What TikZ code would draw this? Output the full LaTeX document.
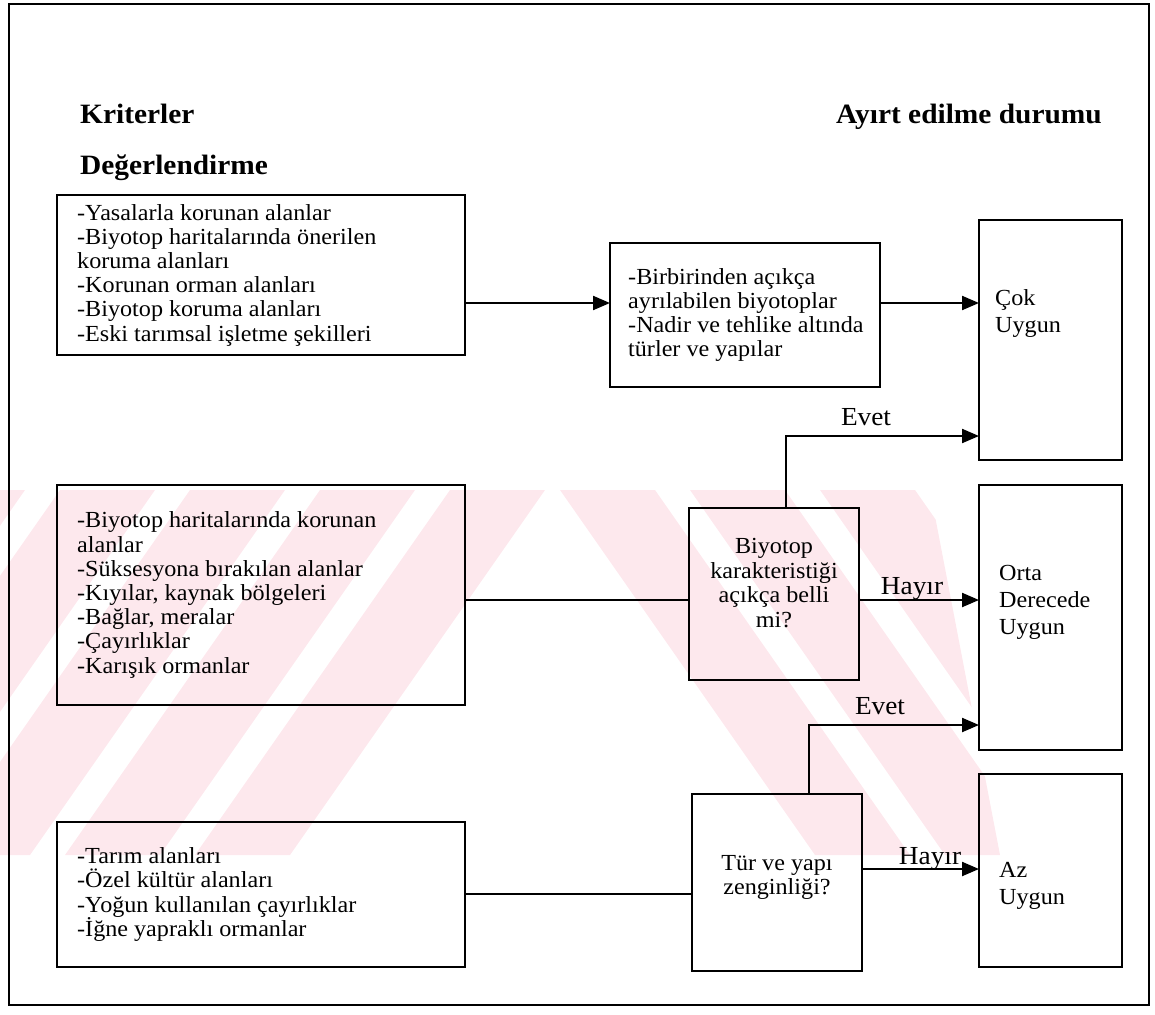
\documentclass[tikz,border=0pt]{standalone}
\usepackage{fontspec}
\setmainfont{Liberation Serif}[FakeStretch=1.05]
\usetikzlibrary{arrows.meta,calc}
\definecolor{wm}{RGB}{253,232,237}
\begin{document}
\begin{tikzpicture}[x=1pt,y=-1pt,
  box/.style={draw, line width=1.8pt, inner sep=0pt, outer sep=0pt, anchor=north west},
  lsttxt/.style={anchor=west, align=left, inner sep=0pt, font=\fontsize{23}{24.2}\selectfont},
  ctrtxt/.style={align=center, inner sep=0pt, font=\fontsize{23}{24.5}\selectfont},
  rtxt/.style={anchor=north west, align=left, inner sep=0pt, font=\fontsize{23}{27}\selectfont},
  head/.style={inner sep=0pt, font=\fontsize{28}{30}\selectfont\bfseries},
  lbl/.style={inner sep=0pt, anchor=base, font=\fontsize{26}{28}\selectfont},
  ln/.style={line width=2.2pt},
  arr/.style={line width=2.2pt, -{Triangle[length=17pt,width=14pt]}}
]
\useasboundingbox (0,0) rectangle (1155,1014);
% watermark
\begin{scope}
  \clip (0,490) -- (930,490) -- (1000,855) -- (0,855) -- cycle;
  \foreach \a in {-70,60,190,320,450}{
    \fill[wm] (\a,490) -- ({\a+95},490) -- ({\a+95-255},855) -- ({\a-255},855) -- cycle;}
  \foreach \b in {560,690,820}{
    \fill[wm] (\b,490) -- ({\b+95},490) -- ({\b+95+255},855) -- ({\b+255},855) -- cycle;}
\end{scope}
% frame
\node[draw, line width=1.6pt, inner sep=0pt, anchor=north west, minimum width=1140pt, minimum height=1001pt] (frame) at (8,3) {};
% headings
\node[head, anchor=base west] (kr) at (80,124) {Kriterler};
\node[head, anchor=base west] (de) at (80,174) {Değerlendirme};
\node[head, anchor=base east] (ay) at (1102,124) {Ayırt edilme durumu};
% left boxes
\node[box, minimum width=408pt, minimum height=160pt] (b1) at (57,195) {};
\node[lsttxt] (t1) at ($(b1.west)+(20,0)$) {-Yasalarla korunan alanlar\\-Biyotop haritalarında önerilen\\koruma alanları\\-Korunan orman alanları\\-Biyotop koruma alanları\\-Eski tarımsal işletme şekilleri};
\node[box, minimum width=408pt, minimum height=220pt] (bm) at (57,485) {};
\node[lsttxt] (tm) at ($(bm.west)+(20,0)$) {-Biyotop haritalarında korunan\\alanlar\\-Süksesyona bırakılan alanlar\\-Kıyılar, kaynak bölgeleri\\-Bağlar, meralar\\-Çayırlıklar\\-Karışık ormanlar};
\node[box, minimum width=408pt, minimum height=145pt] (bb) at (57,822) {};
\node[lsttxt] (tb) at ($(bb.west)+(20,0)$) {-Tarım alanları\\-Özel kültür alanları\\-Yoğun kullanılan çayırlıklar\\-İğne yapraklı ormanlar};
% middle boxes
\node[box, minimum width=270pt, minimum height=144pt] (b2) at (610,243) {};
\node[lsttxt] (t2) at ($(b2.west)+(18,0)$) {-Birbirinden açıkça\\ayrılabilen biyotoplar\\-Nadir ve tehlike altında\\türler ve yapılar};
\node[box, minimum width=170pt, minimum height=172pt] (b3) at (689,508) {};
\node[ctrtxt] (t3) at ($(b3.center)+(0,-11)$) {Biyotop\\karakteristiği\\açıkça belli\\mi?};
\node[box, minimum width=170pt, minimum height=177pt] (b4) at (692,794) {};
\node[ctrtxt] (t4) at ($(b4.center)+(0,-5)$) {Tür ve yapı\\zenginliği?};
% right boxes
\node[box, minimum width=143pt, minimum height=240pt] (cok) at (979,220) {};
\node[rtxt] (tc) at (995,289) {Çok\\Uygun};
\node[box, minimum width=143pt, minimum height=265pt] (orta) at (979,485) {};
\node[rtxt] (to) at (999,565) {Orta\\Derecede\\Uygun};
\node[box, minimum width=143pt, minimum height=193pt] (az) at (979,774) {};
\node[rtxt] (ta) at (999,862) {Az\\Uygun};
% connectors
\coordinate (r1) at (0,303);
\draw[arr] (b1.east |- r1) -- (b2.west |- r1);
\draw[arr] (b2.east |- r1) -- (cok.west |- r1);
\coordinate (e1) at (786,436);
\draw[arr] (b3.north -| e1) -- (e1) -- (cok.west |- e1);
\node[lbl] (ev1) at (866,425) {Evet};
\coordinate (r2) at (0,600);
\draw[ln] (bm.east |- r2) -- (b3.west |- r2);
\draw[arr] (b3.east |- r2) -- (orta.west |- r2);
\node[lbl] (hy1) at (912,594) {Hayır};
\coordinate (e2) at (809,725);
\draw[arr] (b4.north -| e2) -- (e2) -- (orta.west |- e2);
\node[lbl] (ev2) at (880,714) {Evet};
\coordinate (r3) at (0,894);
\draw[ln] (bb.east |- r3) -- (b4.west |- r3);
\coordinate (r4) at (0,869);
\draw[arr] (b4.east |- r4) -- (az.west |- r4);
\node[lbl] (hy2) at (930,864) {Hayır};
\end{tikzpicture}
\end{document}
